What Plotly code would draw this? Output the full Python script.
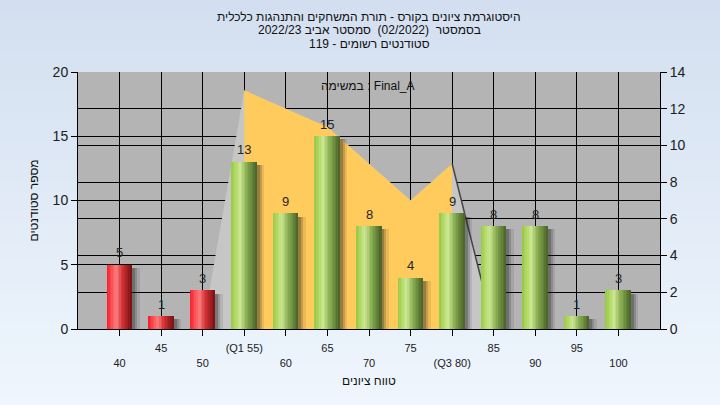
import plotly.graph_objects as go

# ---------------- data ----------------
categories = [40, 45, 50, 55, 60, 65, 70, 75, 80, 85, 90, 95, 100]
tick_labels = ["40", "45", "50", "(Q1 55)", "60", "65", "70", "75", "(Q3 80)", "85", "90", "95", "100"]
counts = [5, 1, 3, 13, 9, 15, 8, 4, 9, 8, 8, 1, 3]
pass_threshold = 55

curve_x = [50, 55, 60, 65, 70, 75, 80, 85]
curve_y = [0, 13, 12, 11, 9, 7, 9, 0]
iqr_x = [55, 60, 65, 70, 75, 80]
iqr_y = [13, 12, 11, 9, 7, 9]

title_lines = [
    "היסטוגרמת ציונים בקורס - תורת המשחקים והתנהגות כלכלית",
    "\u202bבסמסטר \u00a0(02/2022) \u00a0סמסטר אביב 2022/23\u202c",
    "\u202bסטודנטים רשומים - 119\u202c",
]
legend_text = "במשימה : Final_A"
x_title = "טווח ציונים"
y_title = "מספר סטודנטים"

# ---------------- styling helpers ----------------
FONT = "Liberation Sans, Arial, sans-serif"
W, H = 720, 405
ML, MR, MT, MB = 78, 60, 72, 76
PW, PH = W - ML - MR, H - MT - MB


def py2paper(py):
    return (H - MB - py) / PH


def px2paper(px):
    return (px - ML) / PW


def lerp_stops(stops, t):
    for (t0, c0), (t1, c1) in zip(stops, stops[1:]):
        if t0 <= t <= t1:
            f = (t - t0) / (t1 - t0) if t1 > t0 else 0
            c = [round(a + (b - a) * f) for a, b in zip(c0, c1)]
            return "rgb(%d,%d,%d)" % tuple(c)
    c = stops[-1][1]
    return "rgb(%d,%d,%d)" % tuple(c)


green_stops = [(0.0, (150, 200, 70)), (0.12, (170, 212, 90)), (0.35, (204, 230, 146)),
               (0.6, (140, 178, 84)), (1.0, (72, 98, 38))]
red_stops = [(0.0, (244, 26, 38)), (0.12, (250, 56, 64)), (0.38, (248, 126, 126)),
             (0.62, (214, 50, 54)), (1.0, (120, 16, 18))]

fig = go.Figure()

# area (distribution) on main y axis (right side, 0-14)
fig.add_trace(go.Scatter(x=curve_x, y=curve_y, mode="lines", fill="tozeroy",
                         fillcolor="#c6c6c6", line=dict(width=0, color="rgba(0,0,0,0)"),
                         hoverinfo="skip", showlegend=False, xaxis="x", yaxis="y"))
fig.add_trace(go.Scatter(x=iqr_x, y=iqr_y, mode="lines", fill="tozeroy",
                         fillcolor="#ffcb5c", line=dict(width=0, color="rgba(0,0,0,0)"),
                         hoverinfo="skip", showlegend=False, xaxis="x", yaxis="y"))
fig.add_trace(go.Scatter(x=curve_x[-2:], y=curve_y[-2:], mode="lines",
                         line=dict(width=1.5, color="#454545"),
                         hoverinfo="skip", showlegend=False, xaxis="x", yaxis="y"))

# bars on y2 (left side, 0-20)
BW = 3.0
for off, alpha in [(0.9, 0.10), (0.6, 0.18), (0.35, 0.26)]:
    fig.add_trace(go.Bar(x=categories, y=[c - 0.25 for c in counts], width=BW, offset=-BW / 2 + off,
                         marker=dict(color="rgba(30,30,30,%.2f)" % alpha, line=dict(width=0)),
                         hoverinfo="skip", showlegend=False, xaxis="x", yaxis="y2"))

N = 16
groups = [
    ([c for c in categories if c < pass_threshold],
     [v for c, v in zip(categories, counts) if c < pass_threshold], red_stops),
    ([c for c in categories if c >= pass_threshold],
     [v for c, v in zip(categories, counts) if c >= pass_threshold], green_stops),
]
for gx, gy, stops in groups:
    for i in range(N):
        t = (i + 0.5) / N
        fig.add_trace(go.Bar(x=gx, y=gy, width=BW / N * 1.08, offset=-BW / 2 + i * BW / N,
                             marker=dict(color=lerp_stops(stops, t), line=dict(width=0)),
                             hoverinfo="skip", showlegend=False, xaxis="x", yaxis="y2"))

ticktext = [("<br>" + t) if i % 2 == 0 else t for i, t in enumerate(tick_labels)]

# background gradient
shapes = []
nb = 40
x0p, x1p = px2paper(0), px2paper(W)
top_c, bot_c = (211, 223, 240), (239, 246, 253)
for i in range(nb):
    t = (i + 0.5) / nb
    c = [round(a + (b - a) * t) for a, b in zip(top_c, bot_c)]
    shapes.append(dict(type="rect", xref="paper", yref="paper", layer="below",
                       x0=x0p, x1=x1p, y0=py2paper(H * (i + 1) / nb + 0.5), y1=py2paper(H * i / nb - 0.5),
                       fillcolor="rgb(%d,%d,%d)" % tuple(c), line=dict(width=0)))
shapes.append(dict(type="rect", xref="x domain", yref="y domain", layer="below",
                   x0=0, x1=1, y0=0, y1=1, fillcolor="#b4b4b4", line=dict(width=0)))

annotations = []
# value labels above bars
for c, v in zip(categories, counts):
    annotations.append(dict(text=str(v), x=c, xref="x", y=v, yref="y2", yshift=12,
                            xanchor="center", yanchor="middle", showarrow=False,
                            font=dict(family=FONT, size=13, color="#252525")))
for py, line in zip([17, 30.5, 44], title_lines):
    annotations.append(dict(text=line, x=0.5, xref="paper", y=py2paper(py), yref="paper",
                            xanchor="center", yanchor="middle", showarrow=False,
                            font=dict(family=FONT, size=12, color="#101010")))
annotations.append(dict(text=legend_text, x=px2paper(368), xref="paper", y=py2paper(86), yref="paper",
                        xanchor="center", yanchor="middle", showarrow=False,
                        font=dict(family=FONT, size=12, color="#101010")))
annotations.append(dict(text=x_title, x=0.5, xref="paper", y=py2paper(381), yref="paper",
                        xanchor="center", yanchor="middle", showarrow=False,
                        font=dict(family=FONT, size=12, color="#101010")))
annotations.append(dict(text=y_title, x=px2paper(33), xref="paper", y=0.5, yref="paper",
                        xanchor="center", yanchor="middle", showarrow=False, textangle=-90,
                        font=dict(family=FONT, size=12, color="#101010")))

fig.update_layout(
    width=W, height=H,
    margin=dict(l=ML, r=MR, t=MT, b=MB),
    paper_bgcolor="rgb(225,235,247)",
    plot_bgcolor="rgba(0,0,0,0)",
    barmode="overlay", bargap=0,
    showlegend=False,
    font=dict(family=FONT, size=12, color="#101010"),
    shapes=shapes,
    annotations=annotations,
    xaxis=dict(range=[35, 105], tickmode="array", tickvals=categories, ticktext=ticktext,
               ticks="outside", ticklen=6, tickcolor="black", showline=True, linecolor="black",
               linewidth=1, showgrid=True, gridcolor="black", gridwidth=1, zeroline=False,
               tickfont=dict(family=FONT, size=11, color="#202020"), ticklabelstandoff=3,
               fixedrange=True),
    yaxis=dict(range=[0, 14], dtick=2, side="right", ticks="outside", ticklen=6, tickcolor="black",
               showline=True, linecolor="black", linewidth=1, showgrid=True, gridcolor="black",
               gridwidth=1, zeroline=False, tickfont=dict(family=FONT, size=14, color="#202020")),
    yaxis2=dict(range=[0, 20], dtick=5, side="left", overlaying="y", anchor="x", ticks="outside",
                ticklen=6, tickcolor="black", showline=True, linecolor="black", linewidth=1,
                showgrid=True, gridcolor="black", gridwidth=1, zeroline=False,
                tickfont=dict(family=FONT, size=14, color="#202020")),
)

fig.write_html("out.html", config={"displayModeBar": False},
               post_script="document.body.style.margin='0';document.body.style.overflow='hidden';")
